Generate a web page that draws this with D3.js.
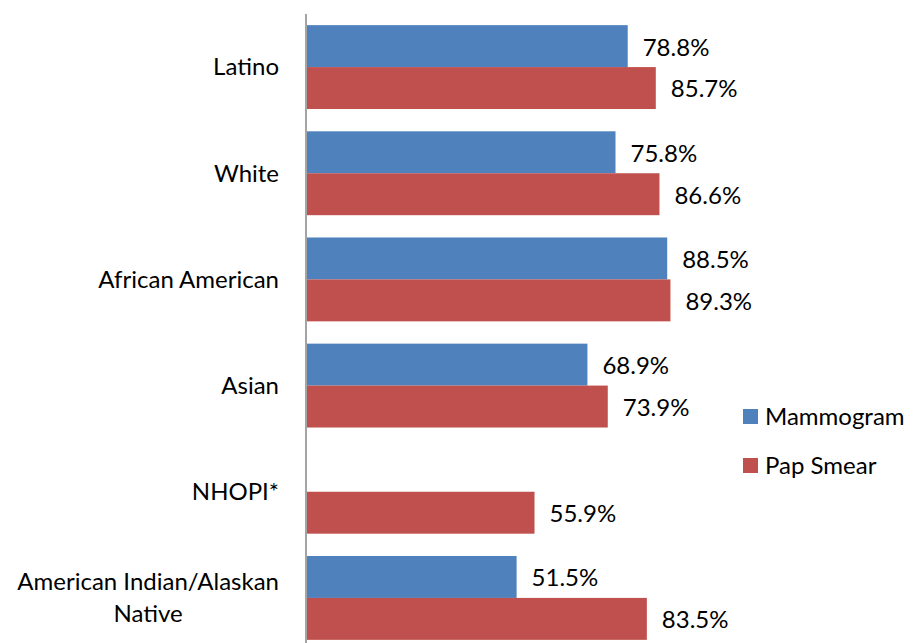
<!DOCTYPE html>
<html>
<head>
<meta charset="utf-8">
<script src="https://cdn.jsdelivr.net/npm/d3@7"></script>
<style>
  html, body { margin: 0; padding: 0; background: #fff; }
  svg { display: block; font-family: Lato, "Open Sans", sans-serif; }
</style>
</head>
<body>
<svg id="chart" width="913" height="643"></svg>
<script>
// Screening rates by race/ethnicity
const categories = [
  ["Latino"],
  ["White"],
  ["African American"],
  ["Asian"],
  ["NHOPI*"],
  ["American Indian/Alaskan", "Native"]
];
const mammogram = [78.8, 75.8, 88.5, 68.9, null, 51.5];
const papSmear  = [85.7, 86.6, 89.3, 73.9, 55.9, 83.5];
const seriesNames = ["Mammogram", "Pap Smear"];
const seriesColors = ["#4F81BD", "#C0504D"];

const svg = d3.select("#chart");
const axisX = 306;
const fontSize = 24;

const x = d3.scaleLinear().domain([0, 100]).range([axisX + 1, axisX + 408]);
const y = d3.scaleBand()
  .domain(d3.range(categories.length))
  .range([14, 651])
  .paddingInner(0.21)
  .paddingOuter(0.105);
const sub = d3.scaleBand().domain([0, 1]).range([0, y.bandwidth()]);

const series = [mammogram, papSmear];

// bars with value labels
series.forEach((vals, s) => {
  const g = svg.append("g");
  vals.forEach((v, i) => {
    if (v == null) return;
    g.append("rect")
      .attr("x", x(0))
      .attr("y", y(i) + sub(s))
      .attr("width", x(v) - x(0))
      .attr("height", sub.bandwidth())
      .attr("fill", seriesColors[s]);
    g.append("text")
      .attr("x", x(v) + 15)
      .attr("y", y(i) + sub(s) + sub.bandwidth() / 2 + 1)
      .attr("dy", "0.35em")
      .attr("font-size", fontSize)
      .attr("fill", "#000")
      .text(v.toFixed(1) + "%");
  });
});

// vertical axis line
svg.append("line")
  .attr("x1", axisX).attr("x2", axisX)
  .attr("y1", 14).attr("y2", 643)
  .attr("stroke", "#868686").attr("stroke-width", 1.5);

// category labels (right-aligned block, lines centred within it)
categories.forEach((lines, i) => {
  const cy = y(i) + y.bandwidth() / 2;
  const lh = 32;
  const t = svg.append("text")
    .attr("text-anchor", "middle")
    .attr("font-size", fontSize)
    .attr("fill", "#000");
  const n = lines.length;
  lines.forEach((ln, k) => {
    t.append("tspan")
      .attr("x", 0)
      .attr("y", cy + (k - (n - 1) / 2) * lh)
      .attr("dy", "0.35em")
      .text(ln);
  });
  const bb = t.node().getBBox();
  t.attr("transform", `translate(${279 - bb.width / 2},0)`);
});

// legend
const legend = svg.append("g").attr("transform", "translate(743,409)");
seriesNames.forEach((name, s) => {
  const row = legend.append("g").attr("transform", `translate(0,${s * 49})`);
  row.append("rect").attr("width", 15).attr("height", 15).attr("fill", seriesColors[s]);
  row.append("text")
    .attr("x", 22).attr("y", 8).attr("dy", "0.35em")
    .attr("font-size", fontSize).attr("fill", "#000")
    .text(name);
});
</script>
</body>
</html>
